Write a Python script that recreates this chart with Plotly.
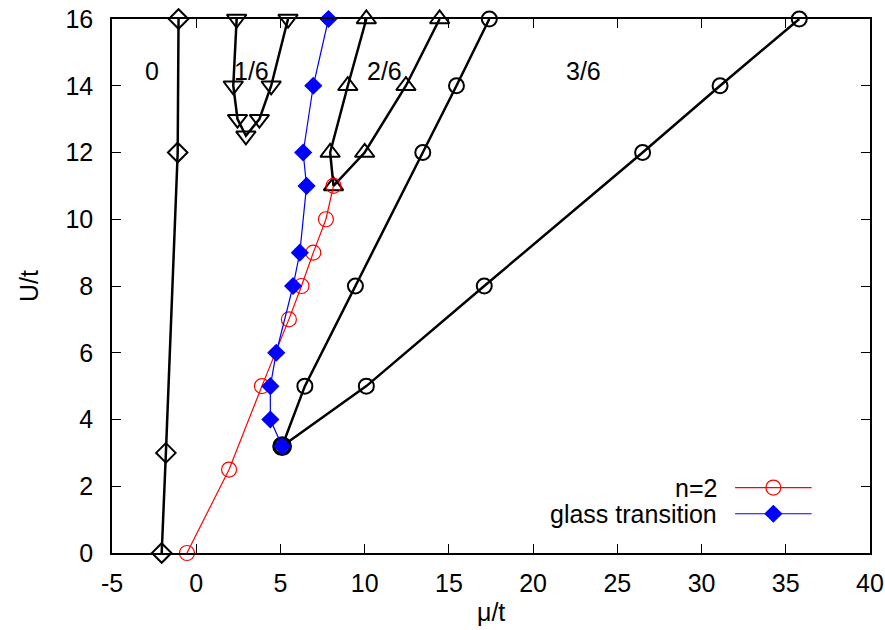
import plotly.graph_objects as go

# Phase boundaries in the (mu/t, U/t) plane
# n = 0 boundary (diamonds)
mu_zero = [-2.05, -1.8, -1.1, -1.05]
u_zero = [0, 3, 12, 16]

# n = 1/6 lobe (down triangles)
mu_one6 = [2.4, 2.2, 2.45, 2.95, 3.75, 4.45, 5.45]
u_one6 = [16, 14, 13, 12.5, 13, 14, 16]

# n = 2/6 lobe (up triangles)
mu_two6 = [10.1, 9.0, 7.95, 8.15, 10.0, 12.45, 14.45]
u_two6 = [16, 14, 12, 11, 12, 14, 16]

# n = 3/6 lobe (circles)
mu_three6 = [17.4, 15.45, 13.45, 9.45, 6.45, 5.1, 10.1, 17.1, 26.5, 31.1, 35.8]
u_three6 = [16, 14, 12, 8, 5, 3.2, 5, 8, 12, 14, 16]

# n = 2 line
mu_n2 = [-0.55, 1.95, 3.9, 5.5, 6.25, 6.95, 7.7, 8.15]
u_n2 = [0, 2.5, 5, 7, 8, 9, 10, 11]

# glass transition
mu_glass = [5.1, 4.4, 4.4, 4.75, 5.75, 6.15, 6.55, 6.35, 6.95, 7.85]
u_glass = [3.2, 4, 5, 6, 8, 9, 11, 12, 14, 16]

# region labels
region_text = ["0", "1/6", "2/6", "3/6"]
region_mu = [-2.65, 3.3, 11.2, 23.0]
region_u = [14.45, 14.45, 14.45, 14.45]

# axis ticks
x_ticks = [-5, 0, 5, 10, 15, 20, 25, 30, 35, 40]
x_ticklabels = ["-5", "0", "5", "10", "15", "20", "25", "30", "35", "40"]
y_ticks = [0, 2, 4, 6, 8, 10, 12, 14, 16]
y_ticklabels = ["0", "2", "4", "6", "8", "10", "12", "14", "16"]

legend_names = ["n=2", "glass transition"]

FONT = "Liberation Sans, Arial, sans-serif"
FS = 25

fig = go.Figure()


def black_curve(x, y, symbol, size=15):
    fig.add_trace(go.Scatter(
        x=x, y=y, mode="lines+markers", cliponaxis=False, showlegend=False,
        line=dict(color="black", width=2.5),
        marker=dict(symbol=symbol, size=size, color="black",
                    line=dict(color="black", width=2)),
    ))


black_curve(mu_zero, u_zero, "diamond-open", 15)
black_curve(mu_one6, u_one6, "triangle-down-open", 17)
black_curve(mu_two6, u_two6, "triangle-up-open", 17)
black_curve(mu_three6, u_three6, "circle-open", 15)

# bold circle at the tip of the 3/6 lobe
fig.add_trace(go.Scatter(
    x=[mu_three6[5]], y=[u_three6[5]], mode="markers", cliponaxis=False,
    showlegend=False,
    marker=dict(symbol="circle-open", size=17, color="black",
                line=dict(color="black", width=2.8)),
))

fig.add_trace(go.Scatter(
    x=mu_n2, y=u_n2, mode="lines+markers", cliponaxis=False, showlegend=False,
    line=dict(color="red", width=1.2),
    marker=dict(symbol="circle-open", size=15, color="red",
                line=dict(color="red", width=1.2)),
))

fig.add_trace(go.Scatter(
    x=mu_glass, y=u_glass, mode="lines+markers", cliponaxis=False,
    showlegend=False,
    line=dict(color="blue", width=1.2),
    marker=dict(symbol="diamond", size=14, color="blue", line=dict(width=0)),
))

# key in the lower right, drawn on an overlay axis spanning the plot area
key_y = [0.1225, 0.0735]
key_styles = [
    dict(line=dict(color="red", width=1.2),
         marker=dict(symbol="circle-open", size=15, color="red",
                     line=dict(color="red", width=1.2))),
    dict(line=dict(color="blue", width=1.2),
         marker=dict(symbol="diamond", size=14, color="blue", line=dict(width=0))),
]
for name, ky, st in zip(legend_names, key_y, key_styles):
    fig.add_trace(go.Scatter(
        x=[0.822, 0.923], y=[ky, ky], mode="lines", xaxis="x2", yaxis="y2",
        showlegend=False, line=st["line"], hoverinfo="skip",
    ))
    fig.add_trace(go.Scatter(
        x=[0.8725], y=[ky], mode="markers", xaxis="x2", yaxis="y2",
        showlegend=False, marker=st["marker"], hoverinfo="skip",
    ))
    fig.add_annotation(
        x=0.8007, y=ky, xref="x2", yref="y2", text=name, showarrow=False,
        xanchor="right", yanchor="middle",
        font=dict(family=FONT, size=FS, color="black"),
    )

for t, mx, my in zip(region_text, region_mu, region_u):
    fig.add_annotation(
        x=mx, y=my, text=t, showarrow=False, xanchor="center", yanchor="middle",
        font=dict(family=FONT, size=FS, color="black"),
    )

# x-axis title placed below the tick labels
fig.add_annotation(
    x=0.5, y=-0.11, xref="paper", yref="paper", text="μ/t", showarrow=False,
    xanchor="center", yanchor="middle",
    font=dict(family=FONT, size=FS, color="black"),
)

axis_common = dict(
    showgrid=False, zeroline=False, showline=True, linecolor="black",
    linewidth=1.5, mirror="allticks", ticks="inside", ticklen=9,
    tickwidth=1.2, tickcolor="black", automargin=False,
    tickfont=dict(family=FONT, size=FS, color="black"),
)

fig.update_layout(
    width=885, height=630,
    margin=dict(l=112, r=15, t=19, b=77),
    paper_bgcolor="white", plot_bgcolor="white",
    font=dict(family=FONT, size=FS, color="black"),
    xaxis=dict(range=[-5, 40], tickmode="array", tickvals=x_ticks,
               ticktext=x_ticklabels, ticklabelstandoff=7,
               **axis_common),
    yaxis=dict(range=[0, 16], tickmode="array", tickvals=y_ticks,
               ticktext=y_ticklabels, ticklabelstandoff=12,
               title=dict(text="U/t", standoff=20,
                          font=dict(family=FONT, size=FS)),
               **axis_common),
    xaxis2=dict(overlaying="x", range=[0, 1], visible=False, fixedrange=True),
    yaxis2=dict(overlaying="y", range=[0, 1], visible=False, fixedrange=True),
)

fig.write_html("out.html")
